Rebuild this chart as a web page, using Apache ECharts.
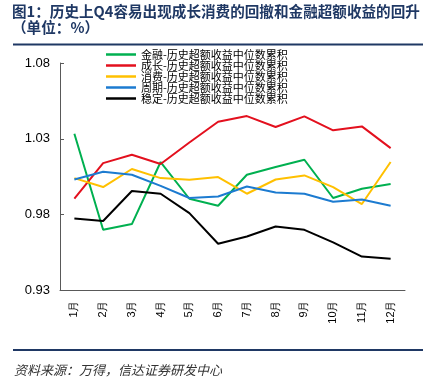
<!DOCTYPE html>
<html><head><meta charset="utf-8">
<script src="https://cdn.jsdelivr.net/npm/echarts@6/dist/echarts.min.js"></script>
<style>html,body{margin:0;padding:0;background:#fff}#c{width:431px;height:390px}</style>
</head><body><div id="c"></div>
<script>
var months = ['1月','2月','3月','4月','5月','6月','7月','8月','9月','10月','11月','12月'];
var seriesNames = ['金融-历史超额收益中位数累积','成长-历史超额收益中位数累积','消费-历史超额收益中位数累积','周期-历史超额收益中位数累积','稳定-历史超额收益中位数累积'];
var finance = [1.0334,0.9700,0.9738,1.0147,0.9905,0.9859,1.0063,1.0114,1.0162,0.9910,0.9971,1.0002];
var growth  = [0.9905,1.0140,1.0195,1.0134,1.0276,1.0413,1.0450,1.0378,1.0448,1.0356,1.0382,1.0239];
var consume = [1.0041,0.9982,1.0101,1.0041,1.0030,1.0048,0.9938,1.0032,1.0059,0.9982,0.9870,1.0147];
var cycle   = [1.0032,1.0083,1.0063,0.9990,0.9910,0.9920,0.9986,0.9946,0.9938,0.9885,0.9900,0.9859];
var stable  = [0.9775,0.9758,0.9956,0.9938,0.9810,0.9608,0.9656,0.9722,0.9700,0.9617,0.9524,0.9509];
var yTicks = {min:0.93, max:1.08, interval:0.05};
var colors = ['#00B050','#E3101E','#FFC000','#1C7BD0','#000000'];
var dataSets = [finance, growth, consume, cycle, stable];

var chart = echarts.init(document.getElementById('c'));
var cjk = '"Noto Sans CJK SC", sans-serif';
chart.setOption({
  animation:false,
  title:{
    text:'图1：历史上Q4容易出现成长消费的回撤和金融超额收益的回升\n（单位：%）',
    left:12, top:3, padding:[0,0,0,0],
    textStyle:{fontSize:14.6, fontWeight:'bold', color:'#1F3864', lineHeight:16, fontFamily:cjk}
  },
  legend:{
    orient:'vertical', left:106, top:49, padding:[0,0,0,0],
    icon:'rect',
    itemWidth:30, itemHeight:2.5, itemGap:0,
    data:seriesNames,
    textStyle:{fontSize:11, lineHeight:11, color:'#000', fontFamily:cjk}
  },
  grid:{left:60, right:26, top:63, bottom:99.5, containLabel:false},
  xAxis:{
    type:'category', data:months, boundaryGap:true,
    axisLine:{lineStyle:{color:'#595959', width:1}},
    axisTick:{inside:true, length:4, lineStyle:{color:'#595959'}},
    axisLabel:{rotate:90, margin:10, fontSize:11, color:'#000', fontFamily:'"Liberation Sans", Arial, sans-serif'}
  },
  yAxis:{
    type:'value', min:yTicks.min, max:yTicks.max, interval:yTicks.interval,
    axisLine:{show:true, lineStyle:{color:'#595959', width:1}},
    axisTick:{show:true, inside:true, length:4, lineStyle:{color:'#595959'}},
    splitLine:{show:false},
    axisLabel:{margin:10, fontSize:13, color:'#000', fontFamily:'"Liberation Sans", Arial, sans-serif',
      formatter:function(v){return v.toFixed(2);}}
  },
  series: seriesNames.map(function(n,i){
    return {name:n, type:'line', data:dataSets[i], symbol:'none', smooth:false,
      lineStyle:{width:2, color:colors[i]}, itemStyle:{color:colors[i]}};
  }),
  graphic:[
    {type:'line', shape:{x1:13,y1:44.5,x2:423,y2:44.5}, style:{stroke:'#1F3864', lineWidth:2}},
    {type:'line', shape:{x1:13,y1:350,x2:423,y2:350}, style:{stroke:'#1F3864', lineWidth:2}},
    {type:'text', left:14, top:364, style:{text:'资料来源：万得，信达证券研发中心', fontSize:13, fontStyle:'italic', fill:'#333', fontFamily:cjk}}
  ]
});
</script></body></html>
